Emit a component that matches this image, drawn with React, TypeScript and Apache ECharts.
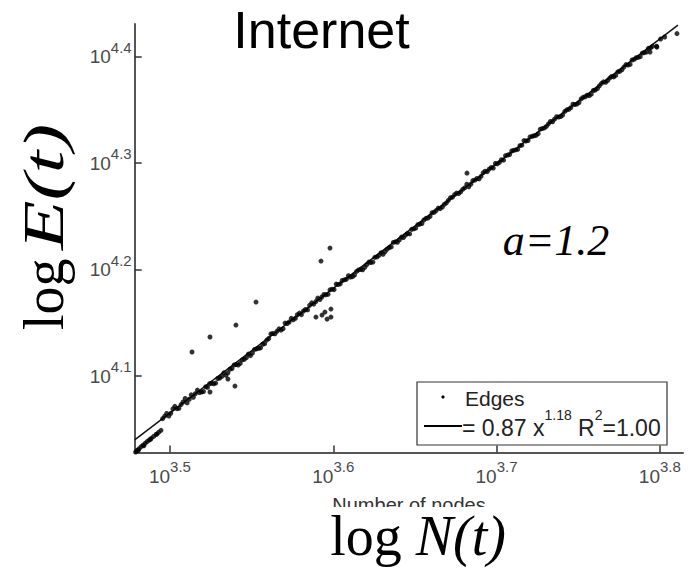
import React, { useEffect, useRef } from 'react';
import * as echarts from 'echarts';

// Axis ranges (log10 units) and tick values
const xRange = [3.4784, 3.8142];
const yRange = [4.0282, 4.4307];
const xTicks = [3.5, 3.6, 3.7, 3.8];
const yTicks = [4.1, 4.2, 4.3, 4.4];

// Fitted line  E = 0.87 N^1.18 (endpoints, log10 units)
const fitLine = [[3.4784, 4.04], [3.8111, 4.4296]];

// Edges: [log10 N, log10 E]
const edgesLowCluster = [
  [3.479, 4.0287], [3.48, 4.0304], [3.4805, 4.03], [3.481, 4.0315], [3.4822, 4.0335], [3.4835, 4.035],
  [3.484, 4.0345], [3.4848, 4.0368], [3.486, 4.0384], [3.4872, 4.0398], [3.488, 4.0405], [3.4885, 4.0415],
  [3.49, 4.0433], [3.4915, 4.0452], [3.492, 4.0455], [3.493, 4.0471], [3.4945, 4.049],
];

const edgesBandA = [
  [3.4955,4.0600],[3.4980,4.0648],[3.5005,4.0650],[3.5030,4.0716],[3.5055,4.0698],[3.5080,4.0756],[3.5105,4.0748],[3.5130,4.0824],[3.5155,4.0834],[3.5180,4.0845],[3.5205,4.0855],[3.5230,4.0894],[3.5255,4.0933],[3.5280,4.0934],[3.5305,4.0982],[3.5330,4.1030],[3.5355,4.1031],[3.5380,4.1070],[3.5405,4.1108],[3.5430,4.1119],[3.5455,4.1158],[3.5480,4.1206],[3.5505,4.1217],[3.5530,4.1255],[3.5555,4.1265],[3.5580,4.1304],[3.5605,4.1353],[3.5630,4.1400],[3.5655,4.1420],[3.5680,4.1431],[3.5705,4.1498],[3.5730,4.1508],[3.5755,4.1529],[3.5780,4.1576],[3.5805,4.1577],[3.5830,4.1625],[3.5855,4.1664],[3.5880,4.1675],[3.5905,4.1732],[3.5930,4.1743],[3.5955,4.1763],[3.5980,4.1810],[3.6005,4.1812],[3.6030,4.1860],[3.6055,4.1898],[3.6080,4.1909],[3.6105,4.1929],[3.6130,4.1949],[3.6155,4.1997],[3.6180,4.1998],[3.6205,4.2046],[3.6230,4.2066],[3.6255,4.2115],[3.6280,4.2134],[3.6305,4.2144],[3.6330,4.2192],[3.6355,4.2213],[3.6380,4.2261],[3.6405,4.2280],[3.6430,4.2301],[3.6455,4.2339],[3.6480,4.2378],[3.6505,4.2389],[3.6530,4.2427],[3.6555,4.2466],[3.6580,4.2485],[3.6605,4.2534],[3.6630,4.2554],[3.6655,4.2573],[3.6680,4.2613],[3.6705,4.2651],[3.6730,4.2680],[3.6755,4.2719],[3.6780,4.2730],[3.6805,4.2768],[3.6830,4.2778],[3.6855,4.2836],[3.6880,4.2856],[3.6905,4.2876],[3.6930,4.2924],[3.6955,4.2944],[3.6980,4.2954],[3.7005,4.2994],[3.7030,4.3032],[3.7055,4.3070],[3.7080,4.3081],[3.7105,4.3120],[3.7130,4.3130],[3.7155,4.3169],[3.7180,4.3208],[3.7205,4.3246],[3.7230,4.3257],[3.7255,4.3277],[3.7280,4.3325],[3.7305,4.3345],[3.7330,4.3392],[3.7355,4.3413],[3.7380,4.3433],[3.7405,4.3452],[3.7430,4.3501],[3.7455,4.3521],[3.7480,4.3550],[3.7505,4.3570],[3.7530,4.3618],[3.7555,4.3638],[3.7580,4.3648],[3.7605,4.3687],[3.7630,4.3726],[3.7655,4.3764],[3.7680,4.3775],[3.7705,4.3814],[3.7730,4.3824],[3.7755,4.3863],[3.7780,4.3902],[3.7805,4.3921],[3.7830,4.3969],[3.7855,4.3990],[3.7880,4.4000],[3.7905,4.4038],[3.7930,4.4078],[3.7955,4.4097],[3.7980,4.4098],[3.8005,4.4166],[3.8030,4.4185],[3.8105,4.4217],
];

const edgesBandB = [
  [3.4968,4.0624],[3.4993,4.0625],[3.5018,4.0692],[3.5043,4.0694],[3.5068,4.0732],[3.5093,4.0789],[3.5118,4.0782],[3.5143,4.0801],[3.5168,4.0868],[3.5193,4.0850],[3.5218,4.0899],[3.5243,4.0928],[3.5268,4.0928],[3.5293,4.0977],[3.5318,4.0997],[3.5343,4.1007],[3.5368,4.1065],[3.5393,4.1104],[3.5418,4.1104],[3.5443,4.1152],[3.5468,4.1173],[3.5493,4.1192],[3.5518,4.1250],[3.5543,4.1261],[3.5568,4.1299],[3.5593,4.1338],[3.5618,4.1396],[3.5643,4.1397],[3.5668,4.1444],[3.5693,4.1445],[3.5718,4.1494],[3.5743,4.1542],[3.5768,4.1543],[3.5793,4.1591],[3.5818,4.1611],[3.5843,4.1621],[3.5868,4.1688],[3.5893,4.1699],[3.5918,4.1719],[3.5943,4.1766],[3.5968,4.1768],[3.5993,4.1816],[3.6018,4.1864],[3.6043,4.1866],[3.6068,4.1904],[3.6093,4.1942],[3.6118,4.1934],[3.6143,4.1983],[3.6168,4.2002],[3.6193,4.2022],[3.6218,4.2071],[3.6243,4.2071],[3.6268,4.2119],[3.6293,4.2159],[3.6318,4.2169],[3.6343,4.2207],[3.6368,4.2255],[3.6393,4.2257],[3.6418,4.2305],[3.6443,4.2324],[3.6468,4.2335],[3.6493,4.2383],[3.6518,4.2422],[3.6543,4.2433],[3.6568,4.2481],[3.6593,4.2500],[3.6618,4.2539],[3.6643,4.2578],[3.6668,4.2588],[3.6693,4.2627],[3.6718,4.2675],[3.6743,4.2704],[3.6768,4.2715],[3.6793,4.2754],[3.6818,4.2802],[3.6843,4.2803],[3.6868,4.2841],[3.6893,4.2852],[3.6918,4.2909],[3.6943,4.2920],[3.6968,4.2959],[3.6993,4.2997],[3.7018,4.3008],[3.7043,4.3028],[3.7068,4.3076],[3.7093,4.3114],[3.7118,4.3125],[3.7143,4.3164],[3.7168,4.3212],[3.7193,4.3213],[3.7218,4.3252],[3.7243,4.3262],[3.7268,4.3319],[3.7293,4.3331],[3.7318,4.3369],[3.7343,4.3389],[3.7368,4.3436],[3.7393,4.3438],[3.7418,4.3486],[3.7443,4.3506],[3.7468,4.3554],[3.7493,4.3555],[3.7518,4.3603],[3.7543,4.3624],[3.7568,4.3634],[3.7593,4.3682],[3.7618,4.3701],[3.7643,4.3750],[3.7668,4.3760],[3.7693,4.3799],[3.7718,4.3810],[3.7743,4.3858],[3.7768,4.3877],[3.7793,4.3926],[3.7818,4.3927],[3.7843,4.3975],[3.7868,4.3994],[3.7893,4.4034],[3.7918,4.4044],[3.7943,4.4082],
];

const edgesOutliers = [
  [3.5135, 4.1226], [3.5245, 4.1367], [3.5404, 4.1479], [3.5527, 4.1695], [3.5925, 4.208], [3.598, 4.2202],
  [3.5894, 4.1554], [3.5931, 4.1573], [3.5949, 4.1601], [3.5986, 4.1629], [3.5986, 4.1554], [3.5962, 4.1535],
  [3.5398, 4.0906], [3.5355, 4.0972], [3.5245, 4.085], [3.794, 4.4043], [3.7982, 4.409], [3.6819, 4.2906],
];

const titleText = 'Internet';
const annotationText = 'a=1.2';
const legendEdges = 'Edges';
const legendFit = ['= 0.87 x', '1.18', ' R', '2', '=1.00'];

const SANS = '"Liberation Sans", Arial, sans-serif';
const SERIF = '"Liberation Serif", "Times New Roman", serif';

const tickRich = {
  b: { fontSize: 19, fontFamily: SANS, color: '#4a4a4a', lineHeight: 34 },
  s: { fontSize: 15, fontFamily: SANS, color: '#4a4a4a', lineHeight: 13, verticalAlign: 'top' },
};
const tickFormatter = (v: number) => `{b|10}{s|${v.toFixed(1)}}`;

export default function App() {
  const ref = useRef<HTMLDivElement>(null);
  useEffect(() => {
    if (!ref.current) return;
    const chart = echarts.init(ref.current, undefined, { renderer: 'svg' });
    const edges = [...edgesLowCluster, ...edgesBandA, ...edgesBandB, ...edgesOutliers];
    chart.setOption({
      animation: false,
      backgroundColor: '#fff',
      grid: { left: 134.7, top: 24, width: 548.3, height: 428.5, containLabel: false },
      xAxis: {
        type: 'value', min: xRange[0], max: xRange[1],
        axisLine: { show: true, onZero: false, lineStyle: { color: '#555', width: 2 } },
        axisTick: { show: true, inside: true, length: 7, customValues: xTicks, lineStyle: { color: '#333', width: 1.5 } },
        axisLabel: { customValues: xTicks, margin: 6.5, formatter: tickFormatter, rich: tickRich },
        splitLine: { show: false },
      },
      yAxis: {
        type: 'value', min: yRange[0], max: yRange[1],
        axisLine: { show: true, onZero: false, lineStyle: { color: '#555', width: 2 } },
        axisTick: { show: true, inside: true, length: 7, customValues: yTicks, lineStyle: { color: '#333', width: 1.5 } },
        axisLabel: { customValues: yTicks, margin: 3, formatter: tickFormatter, rich: tickRich },
        splitLine: { show: false },
      },
      series: [
        {
          type: 'line', data: fitLine, symbol: 'none', silent: true,
          lineStyle: { color: '#111', width: 1.5 }, z: 2,
        },
        {
          type: 'scatter', data: edges, symbol: 'circle', symbolSize: 5, silent: true,
          itemStyle: { color: '#000' }, z: 3,
        },
      ],
      graphic: [
        { type: 'text', x: 321.5, y: 30, style: { text: titleText, fontSize: 52, fontFamily: SANS, fill: '#000', align: 'center', verticalAlign: 'middle' } },
        { type: 'text', x: 556, y: 240, style: { text: annotationText, fontSize: 44, fontStyle: 'italic', fontFamily: SERIF, fill: '#000', align: 'center', verticalAlign: 'middle' } },
        {
          type: 'text', x: 44, y: 330, rotation: Math.PI / 2,
          style: { text: 'log', fontSize: 56, fontFamily: SERIF, fill: '#000', align: 'left', verticalAlign: 'middle' },
        },
        {
          type: 'text', x: 44, y: 250, rotation: Math.PI / 2, scaleX: 1.45,
          style: { text: 'E(t)', fontSize: 56, fontFamily: SERIF, fontStyle: 'italic', fill: '#000', align: 'left', verticalAlign: 'middle' },
        },
        { type: 'text', x: 409, y: 505, style: { text: 'Number of nodes', fontSize: 20, lineHeight: 10, fontFamily: SANS, fill: '#333', align: 'center', verticalAlign: 'middle' }, z: 10 },
        { type: 'rect', shape: { x: 250, y: 507, width: 350, height: 61 }, style: { fill: '#fff' }, z: 11 },
        {
          type: 'text', x: 418, y: 536, z: 12,
          style: {
            text: '{a|log }{b|N(t)}', align: 'center', verticalAlign: 'middle', fill: '#000',
            rich: {
              a: { fontSize: 56, lineHeight: 48, fontFamily: SERIF, fill: '#000' },
              b: { fontSize: 56, lineHeight: 48, fontFamily: SERIF, fontStyle: 'italic', fill: '#000' },
            },
          },
        },
        {
          type: 'group', z: 100,
          children: [
            { type: 'rect', shape: { x: 417, y: 382, width: 250, height: 63 }, style: { fill: '#fff', stroke: '#333', lineWidth: 1.2 } },
            { type: 'circle', shape: { cx: 443, cy: 397, r: 1.6 }, style: { fill: '#000' } },
            { type: 'text', x: 465, y: 398, style: { text: legendEdges, fontSize: 21, fontFamily: SANS, fill: '#222', align: 'left', verticalAlign: 'middle' } },
            { type: 'line', shape: { x1: 424, y1: 426, x2: 462, y2: 426 }, style: { stroke: '#000', lineWidth: 2 } },
            {
              type: 'text', x: 462, y: 428,
              style: {
                text: `{m|${legendFit[0]}}{s|${legendFit[1]}}{m|${legendFit[2]}}{s|${legendFit[3]}}{m|${legendFit[4]}}`,
                align: 'left', verticalAlign: 'middle', fill: '#222',
                rich: {
                  m: { fontSize: 23, fontFamily: SANS, fill: '#222', lineHeight: 40 },
                  s: { fontSize: 14, fontFamily: SANS, fill: '#222', lineHeight: 14, verticalAlign: 'top' },
                },
              },
            },
          ],
        },
      ],
    });
    return () => chart.dispose();
  }, []);
  return <div ref={ref} style={{ position: 'fixed', left: 0, top: 0, width: 697, height: 568, background: '#fff' }} />;
}
